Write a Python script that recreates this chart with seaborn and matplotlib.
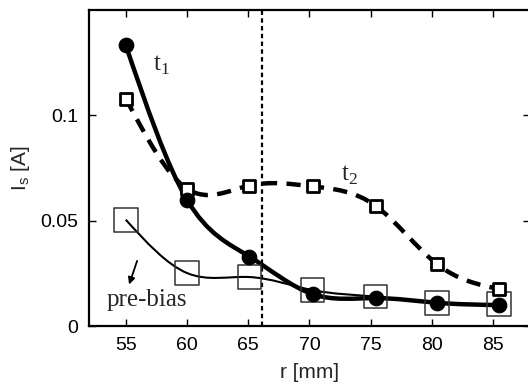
import numpy as np
import pandas as pd
import matplotlib
matplotlib.use("Agg")
import matplotlib.pyplot as plt
from matplotlib.path import Path
from matplotlib.patches import PathPatch
import seaborn as sns

# radial positions [mm] and probe currents [A]
r_mm = [55, 60, 65.1, 70.25, 75.4, 80.4, 85.5]
t1 = [0.1333, 0.0600, 0.0330, 0.0152, 0.0133, 0.0111, 0.0100]
t2 = [0.1080, 0.0652, 0.0667, 0.0663, 0.0571, 0.0295, 0.0176]
pre_bias = [0.0505, 0.0252, 0.0233, 0.0171, 0.0140, 0.0110, 0.0105]
bias_pos = 66.1

data = pd.DataFrame({"r": r_mm, "t1": t1, "t2": t2, "pre": pre_bias})


def spline_path(x, y):
    # natural cubic spline through the points, drawn as bezier segments
    x = np.asarray(x, float)
    y = np.asarray(y, float)
    n = len(x)
    h = np.diff(x)
    d = np.diff(y) / h
    A = np.zeros((n, n))
    b = np.zeros(n)
    A[0, 0], A[0, 1], b[0] = 2, 1, 3 * d[0]
    A[-1, -2], A[-1, -1], b[-1] = 1, 2, 3 * d[-1]
    for i in range(1, n - 1):
        A[i, i - 1] = h[i]
        A[i, i] = 2 * (h[i - 1] + h[i])
        A[i, i + 1] = h[i - 1]
        b[i] = 3 * (h[i] * d[i - 1] + h[i - 1] * d[i])
    m = np.linalg.solve(A, b)
    verts = [(x[0], y[0])]
    codes = [Path.MOVETO]
    for i in range(n - 1):
        verts += [(x[i] + h[i] / 3, y[i] + m[i] * h[i] / 3),
                  (x[i + 1] - h[i] / 3, y[i + 1] - m[i + 1] * h[i] / 3),
                  (x[i + 1], y[i + 1])]
        codes += [Path.CURVE4] * 3
    return Path(verts, codes)


sns.set_style("ticks")
plt.rcParams["font.family"] = ["Liberation Sans", "DejaVu Sans"]

fig = plt.figure(figsize=(5.28, 3.92), dpi=100)
ax = fig.add_axes([0.1686, 0.168, 0.835, 0.8065])

ax.axvline(bias_pos, color="black", linestyle=(0, (2, 1.5)), lw=1.6, zorder=1)

ax.add_patch(PathPatch(spline_path(data["r"], data["pre"]), fill=False,
                       edgecolor="black", lw=1.5, zorder=2))
ax.add_patch(PathPatch(spline_path(data["r"], data["t2"]), fill=False,
                       edgecolor="black", lw=3.2, linestyle=(0, (3.2, 2.1)),
                       zorder=3))
ax.add_patch(PathPatch(spline_path(data["r"], data["t1"]), fill=False,
                       edgecolor="black", lw=3.2, zorder=4))

sns.scatterplot(data=data, x="r", y="pre", marker="s", s=290,
                facecolor="none", edgecolor="#333333", linewidth=1.1,
                ax=ax, zorder=5)
sns.scatterplot(data=data, x="r", y="t2", marker="s", s=80,
                facecolor="white", edgecolor="black", linewidth=2,
                ax=ax, zorder=6)
sns.scatterplot(data=data, x="r", y="t1", marker="o", s=110,
                color="black", edgecolor="black", ax=ax, zorder=7)

ax.set_xlim(52, 88)
ax.set_ylim(0, 0.15)
ax.set_xticks([55, 60, 65, 70, 75, 80, 85])
ax.set_yticks([0, 0.05, 0.1])
ax.set_yticklabels(["0", "0.05", "0.1"])
ax.tick_params(direction="in", length=5, width=1, labelsize=14,
               top=True, right=True, pad=8, colors="black")
for s in ax.spines.values():
    s.set_linewidth(1.6)
    s.set_color("black")

ax.set_xlabel("r [mm]", fontsize=15, labelpad=6)
ax.set_ylabel(r"I$_\mathregular{s}$ [A]", fontsize=15, labelpad=6)

serif = ["Liberation Serif", "DejaVu Serif"]
ax.text(57.2, 0.121, r"t$_\mathregular{1}$", family=serif, fontsize=18)
ax.text(72.6, 0.069, r"t$_\mathregular{2}$", family=serif, fontsize=18)
ax.text(56.7, 0.0095, "pre-bias", family=serif, fontsize=18, ha="center")
ax.annotate("", xy=(55.2, 0.0185), xytext=(56.0, 0.0322),
            arrowprops=dict(arrowstyle="-|>", color="black", lw=1.3,
                            mutation_scale=10))

fig.savefig("out.png", dpi=100)
